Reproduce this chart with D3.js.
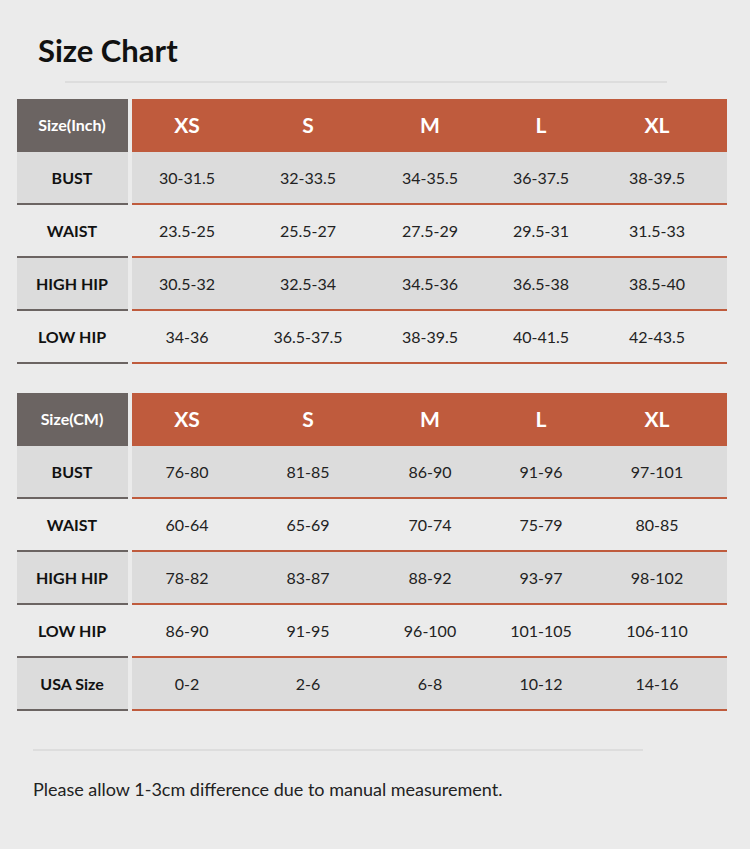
<!DOCTYPE html><html><head><meta charset="utf-8"><script src="https://cdn.jsdelivr.net/npm/d3@7"></script>
<style>body{margin:0;background:#ebebeb}</style></head><body><svg id="c" width="750" height="849"></svg>
<script>
const sizes=["XS","S","M","L","XL"];
const inchRows=["BUST","WAIST","HIGH HIP","LOW HIP"];
const inchVals=[["30-31.5","32-33.5","34-35.5","36-37.5","38-39.5"],["23.5-25","25.5-27","27.5-29","29.5-31","31.5-33"],["30.5-32","32.5-34","34.5-36","36.5-38","38.5-40"],["34-36","36.5-37.5","38-39.5","40-41.5","42-43.5"]];
const cmRows=["BUST","WAIST","HIGH HIP","LOW HIP","USA Size"];
const cmVals=[["76-80","81-85","86-90","91-96","97-101"],["60-64","65-69","70-74","75-79","80-85"],["78-82","83-87","88-92","93-97","98-102"],["86-90","91-95","96-100","101-105","106-110"],["0-2","2-6","6-8","10-12","14-16"]];
const svg=d3.select("#c");const F="Lato, 'Noto Sans', sans-serif";
svg.append("rect").attr("width",750).attr("height",849).attr("fill","#ebebeb");
svg.append("text").attr("x",38).attr("y",62).attr("font-family",F).attr("font-weight",700).attr("font-size",31).attr("fill","#111").text("Size Chart");
svg.append("line").attr("x1",65).attr("x2",667).attr("y1",82).attr("y2",82).attr("stroke","#cfcfcf");
const x=d3.scaleBand().domain(sizes).range([132,727]);
const centers={XS:187,S:308,M:430,L:541,XL:657};
function table(y0,label,rows,vals){
  const y=d3.scaleBand().domain(["H",...rows]).range([y0,y0+53*(rows.length+1)]);
  const g=svg.append("g");
  g.append("rect").attr("x",17).attr("y",y("H")).attr("width",111).attr("height",y.bandwidth()).attr("fill","#6b6462");
  g.append("rect").attr("x",132).attr("y",y("H")).attr("width",595).attr("height",y.bandwidth()).attr("fill","#bf5b3d");
  g.append("text").attr("x",72).attr("y",y("H")+y.bandwidth()/2).attr("dy","0.35em").attr("text-anchor","middle").attr("font-family",F).attr("font-weight",700).attr("font-size",16).attr("fill","#fff").text(label);
  sizes.forEach(s=>g.append("text").attr("x",centers[s]).attr("y",y("H")+y.bandwidth()/2).attr("dy","0.35em").attr("text-anchor","middle").attr("font-family",F).attr("font-weight",700).attr("font-size",21).attr("fill","#fff").text(s));
  rows.forEach((r,i)=>{
    const ry=y(r),h=y.bandwidth();
    if(i%2==0){g.append("rect").attr("x",17).attr("y",ry).attr("width",111).attr("height",h).attr("fill","#dcdcdc");
      g.append("rect").attr("x",132).attr("y",ry).attr("width",595).attr("height",h).attr("fill","#dcdcdc");}
    g.append("rect").attr("x",17).attr("y",ry+h-2).attr("width",111).attr("height",2).attr("fill","#6b6462");
    g.append("rect").attr("x",132).attr("y",ry+h-2).attr("width",595).attr("height",2).attr("fill","#bf5b3d");
    g.append("text").attr("x",72).attr("y",ry+h/2).attr("dy","0.35em").attr("text-anchor","middle").attr("font-family",F).attr("font-weight",700).attr("font-size",16).attr("fill","#111").text(r);
    vals[i].forEach((v,j)=>g.append("text").attr("x",centers[sizes[j]]).attr("y",ry+h/2).attr("dy","0.35em").attr("text-anchor","middle").attr("font-family",F).attr("font-size",16).attr("fill","#222").text(v.replace(/-/g,"\u2013").replace(/\u2013/g,"-")));
  });
}
table(99,"Size(Inch)",inchRows,inchVals);
table(393,"Size(CM)",cmRows,cmVals);
svg.append("line").attr("x1",33).attr("x2",643).attr("y1",750).attr("y2",750).attr("stroke","#cfcfcf");
svg.append("text").attr("x",33).attr("y",796).attr("font-family",F).attr("font-size",18).attr("fill","#222").text("Please allow 1-3cm difference due to manual measurement.");
</script></body></html>
